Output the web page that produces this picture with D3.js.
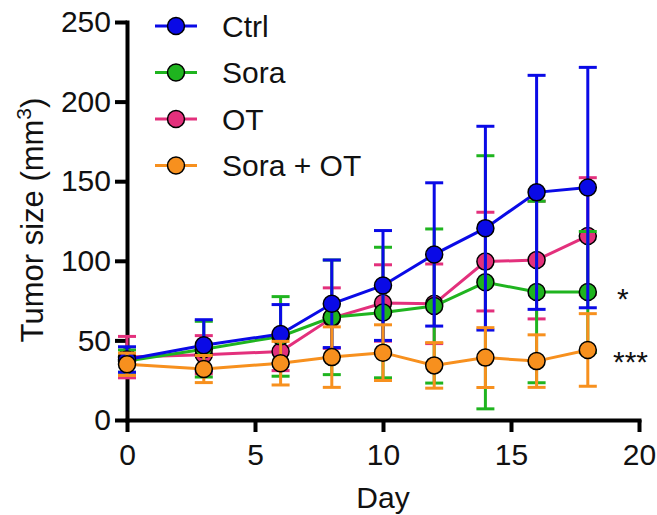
<!DOCTYPE html>
<html>
<head>
<meta charset="utf-8">
<script src="https://cdn.jsdelivr.net/npm/d3@7"></script>
<style>
  body { margin: 0; background: #fff; }
  svg text { font-family: "Liberation Sans", Arial, sans-serif; fill: #111; }
</style>
</head>
<body>
<div id="chart"></div>
<script>
// data (mean and error bar half-length)
var days = [0, 3, 6, 8, 10, 12, 14, 16, 18];
var groupNames = ["Ctrl", "Sora", "OT", "Sora + OT"];
var groupColors = ["#0a0ae6", "#1fb41f", "#e3307c", "#f7901e"];

var ctrlMean = [38, 47, 54, 73, 84.5, 104, 120.5, 143, 146];
var ctrlErr  = [8, 16, 18.5, 27.5, 34.5, 45, 64, 73.5, 75.5];
var soraMean = [37, 44.5, 52.5, 64.5, 67.5, 71.6, 86.5, 80.4, 80.4];
var soraErr  = [7, 17.5, 25, 36, 41, 48.4, 79.5, 57, 38];
var otMean   = [39.5, 41, 43, 64, 73.5, 73, 99.5, 100.5, 115.6];
var otErr    = [13, 12, 12, 19, 24, 25, 31, 37, 36.6];
var comboMean = [35, 32, 35.7, 39.5, 42.3, 34.3, 39.2, 37, 44];
var comboErr  = [7, 8.5, 13.7, 19, 17.5, 14.3, 18.8, 16.5, 22.8];

var xTicks = [0, 5, 10, 15, 20];
var yTicks = [0, 50, 100, 150, 200, 250];
var signifLabels = [{group: 1, text: "*"}, {group: 3, text: "***"}];

var allMeans = [ctrlMean, soraMean, otMean, comboMean];
var allErrs = [ctrlErr, soraErr, otErr, comboErr];
// stacking order seen in the picture: OT at the bottom, Sora+OT on top
var drawOrder = [2, 1, 0, 3];

var width = 657, height = 515;
var svg = d3.select("#chart").append("svg")
  .attr("width", width)
  .attr("height", height);

var x = d3.scaleLinear().domain([0, 20]).range([127, 639]);
var y = d3.scaleLinear().domain([0, 250]).range([420, 22]);

// axes
var xAxis = svg.append("g")
  .attr("transform", "translate(0,420)")
  .call(d3.axisBottom(x).tickValues(xTicks).tickSize(12).tickSizeOuter(0).tickPadding(12));
var yAxis = svg.append("g")
  .attr("transform", "translate(127,0)")
  .call(d3.axisLeft(y).tickValues(yTicks).tickSize(12).tickSizeOuter(0).tickPadding(4));

[xAxis, yAxis].forEach(function(ax){
  ax.select(".domain").attr("stroke", "#000").attr("stroke-width", 4).attr("stroke-linecap", "square");
  ax.selectAll(".tick line").attr("stroke", "#000").attr("stroke-width", 4);
  ax.selectAll(".tick text")
    .style("font-size", "30px")
    .style("font-family", "'Liberation Sans', Arial, sans-serif")
    .attr("fill", "#111");
});

// axis titles
svg.append("text")
  .attr("x", x(10))
  .attr("y", 508)
  .attr("text-anchor", "middle")
  .style("font-size", "30px")
  .text("Day");

var yTitle = svg.append("text")
  .attr("transform", "translate(43,220) rotate(-90)")
  .attr("text-anchor", "middle")
  .style("font-size", "31px");
yTitle.append("tspan").text("Tumor size (mm");
yTitle.append("tspan").attr("dy", "-0.55em").style("font-size", "21px").text("3");
yTitle.append("tspan").attr("dy", "0.38em").text(")");

// series
var line = d3.line()
  .x(function(d){ return x(d.day); })
  .y(function(d){ return y(d.mean); });

drawOrder.forEach(function(g){
  var pts = days.map(function(d, i){
    return {day: d, mean: allMeans[g][i], err: allErrs[g][i]};
  });
  var col = groupColors[g];
  var grp = svg.append("g").attr("class", "series");

  var bars = grp.selectAll(".bar").data(pts).enter().append("g").attr("class", "bar");
  bars.append("line")
    .attr("x1", function(d){ return x(d.day); })
    .attr("x2", function(d){ return x(d.day); })
    .attr("y1", function(d){ return y(d.mean - d.err); })
    .attr("y2", function(d){ return y(d.mean + d.err); })
    .attr("stroke", col).attr("stroke-width", 3);
  [1, -1].forEach(function(s){
    bars.append("line")
      .attr("x1", function(d){ return x(d.day) - 9; })
      .attr("x2", function(d){ return x(d.day) + 9; })
      .attr("y1", function(d){ return y(d.mean + s * d.err); })
      .attr("y2", function(d){ return y(d.mean + s * d.err); })
      .attr("stroke", col).attr("stroke-width", 3);
  });

  grp.append("path")
    .datum(pts)
    .attr("d", line)
    .attr("fill", "none")
    .attr("stroke", col)
    .attr("stroke-width", 3);

  grp.selectAll("circle").data(pts).enter().append("circle")
    .attr("cx", function(d){ return x(d.day); })
    .attr("cy", function(d){ return y(d.mean); })
    .attr("r", 8.5)
    .attr("fill", col)
    .attr("stroke", "#000")
    .attr("stroke-width", 1.5);
});

// significance marks next to the last points
signifLabels.forEach(function(s){
  var last = allMeans[s.group][days.length - 1];
  svg.append("text")
    .attr("x", s.text.length > 1 ? 613 : 617)
    .attr("y", y(last))
    .attr("dy", s.text.length > 1 ? "0.75em" : "0.57em")
    .style("font-size", "30px")
    .text(s.text);
});

// legend
var legend = svg.append("g").attr("class", "legend");
groupNames.forEach(function(name, i){
  var ly = 26 + i * 46.5;
  var item = legend.append("g").attr("transform", "translate(0," + ly + ")");
  item.append("line")
    .attr("x1", 155).attr("x2", 197)
    .attr("stroke", groupColors[i]).attr("stroke-width", 3);
  item.append("circle")
    .attr("cx", 176).attr("r", 8.5)
    .attr("fill", groupColors[i])
    .attr("stroke", "#000").attr("stroke-width", 1.5);
  item.append("text")
    .attr("x", 222).attr("dy", "0.35em")
    .style("font-size", "30px")
    .text(name);
});
</script>
</body>
</html>
